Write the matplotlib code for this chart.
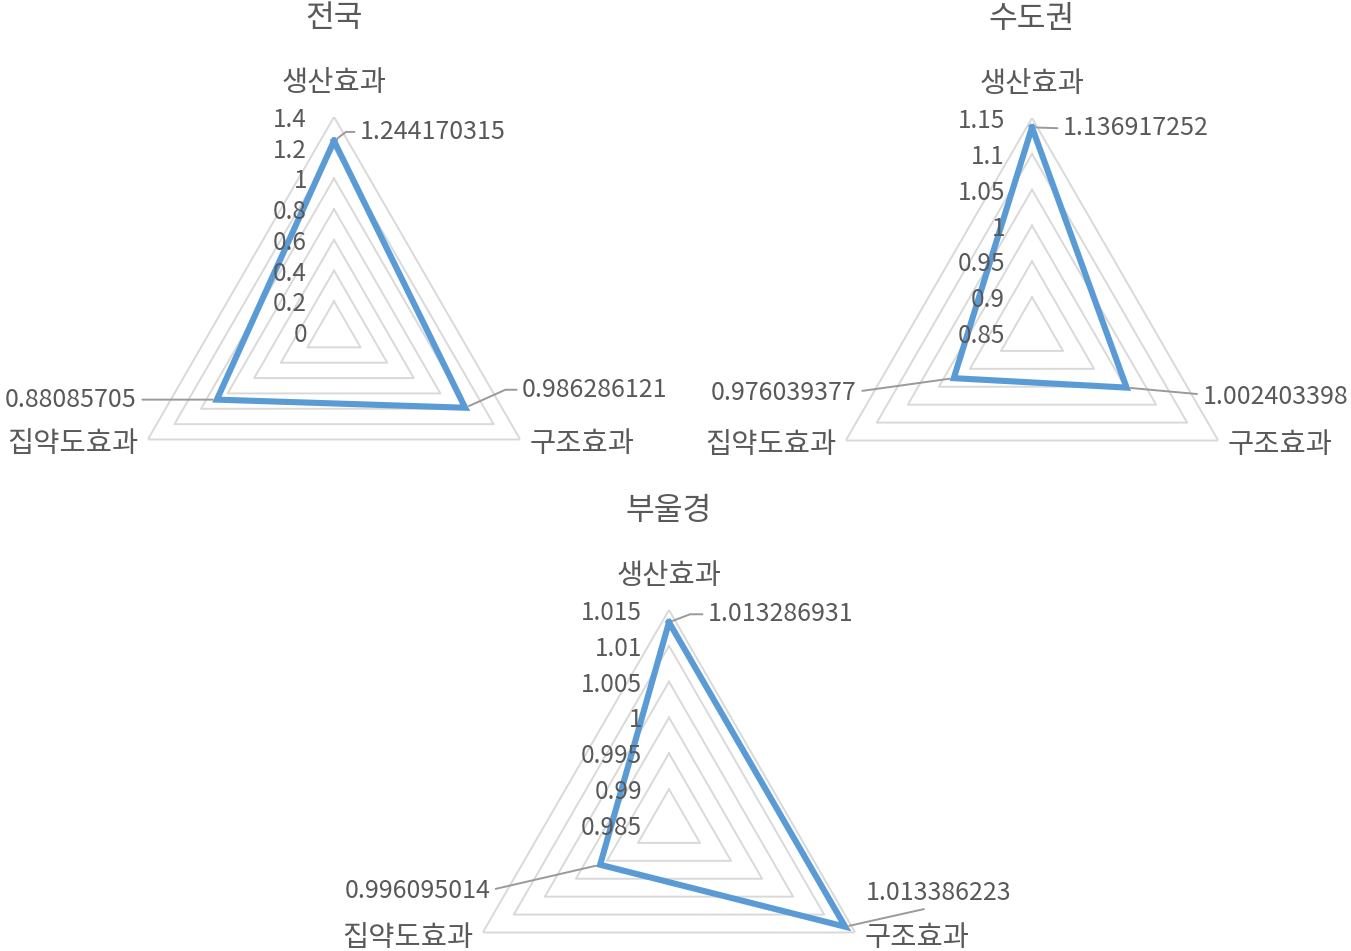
import matplotlib
matplotlib.use('Agg')
import matplotlib.pyplot as plt
import numpy as np

plt.rcParams['font.family'] = ['Noto Sans CJK KR', 'DejaVu Sans']

categories = ['생산효과', '구조효과', '집약도효과']
titles = ['전국', '수도권', '부울경']

nat_values = [1.244170315, 0.986286121, 0.88085705]
cap_values = [1.136917252, 1.002403398, 0.976039377]
bug_values = [1.013286931, 1.013386223, 0.996095014]

nat_ticks = [0, 0.2, 0.4, 0.6, 0.8, 1.0, 1.2, 1.4]
cap_ticks = [0.85, 0.9, 0.95, 1.0, 1.05, 1.1, 1.15]
bug_ticks = [0.985, 0.99, 0.995, 1.0, 1.005, 1.01, 1.015]

W, H = 1351, 951
R = 215
TXT = '#595959'
GRID = '#D9D9D9'
BLUE = '#5B9BD5'
LEAD = '#9A9A9A'
SH = 3  # 글꼴 세로 보정(px)

# 생산효과 위, 구조효과 오른쪽 아래, 집약도효과 왼쪽 아래
theta = np.array([np.pi / 2, -np.pi / 6, 7 * np.pi / 6])

fig = plt.figure(figsize=(W / 100, H / 100), dpi=100)


def radar(cx, cy, ticks, values, title, offsets):
    ax = fig.add_axes([(cx - R) / W, 1 - (cy + R) / H, 2 * R / W, 2 * R / H],
                      projection='polar')
    ax.set_ylim(ticks[0], ticks[-1])
    ax.axis('off')
    th = np.append(theta, theta[0])
    for t in ticks[1:]:
        ax.plot(th, [t] * 4, color=GRID, lw=1.4, zorder=1)
    ax.plot(th, list(values) + [values[0]], color=BLUE, lw=4.4, zorder=3,
            solid_joinstyle='miter')

    for t in ticks:
        ax.annotate('%g' % t, (np.pi / 2, t), xytext=(-27, -SH), textcoords='offset pixels',
                    ha='right', va='center', fontsize=17.5, color=TXT, zorder=4)

    # 축 이름
    top = ticks[-1]
    ax.annotate(categories[0], (theta[0], top), xytext=(0, 37 - SH), textcoords='offset pixels',
                ha='center', va='center', fontsize=20.5, color=TXT)
    ax.annotate(categories[1], (theta[1], top), xytext=(9, -2 - SH), textcoords='offset pixels',
                ha='left', va='center', fontsize=20.5, color=TXT)
    ax.annotate(categories[2], (theta[2], top), xytext=(-9, -2 - SH), textcoords='offset pixels',
                ha='right', va='center', fontsize=20.5, color=TXT)
    ax.annotate(title, (theta[0], top), xytext=(0, 104 - SH - 2), textcoords='offset pixels',
                ha='center', va='center', fontsize=22.5, color=TXT)

    # 데이터 레이블 + 지시선
    for i, (dx, dy, ha) in enumerate(offsets):
        if ha == 'bottom':
            relpos = (0.5, 0.0)
            cs = 'arc3'
            ha = 'left'
        else:
            relpos = (0.0, 0.5) if ha == 'left' else (1.0, 0.5)
            cornerx = dx - 10 if ha == 'left' else dx + 10
            if abs(dy) < 4:
                cs = 'arc3'
            else:
                ang = np.degrees(np.arctan2(-dy, cornerx))
                cs = 'angle,angleA=0,angleB=%.1f,rad=0' % ang
        ax.annotate(str(values[i]), (theta[i], values[i]), xytext=(dx, -dy - SH),
                    textcoords='offset pixels', ha=ha, va='center', fontsize=18,
                    color=TXT, zorder=5,
                    arrowprops=dict(arrowstyle='-', color=LEAD, lw=1.4, shrinkA=2,
                                    shrinkB=3, relpos=relpos, connectionstyle=cs))
    return ax


radar(334, 332, nat_ticks, nat_values, titles[0],
      [(26, -12, 'left'), (57, -21, 'left'), (-80, -3, 'right')])
radar(1032, 333, cap_ticks, cap_values, titles[1],
      [(31, -2, 'left'), (76, 6, 'left'), (-97, 12, 'right')])
radar(669, 825, bug_ticks, bug_values, titles[2],
      [(39, -11, 'left'), (21, -37, 'bottom'), (-110, 23, 'right')])

fig.savefig('out.png', dpi=100)
